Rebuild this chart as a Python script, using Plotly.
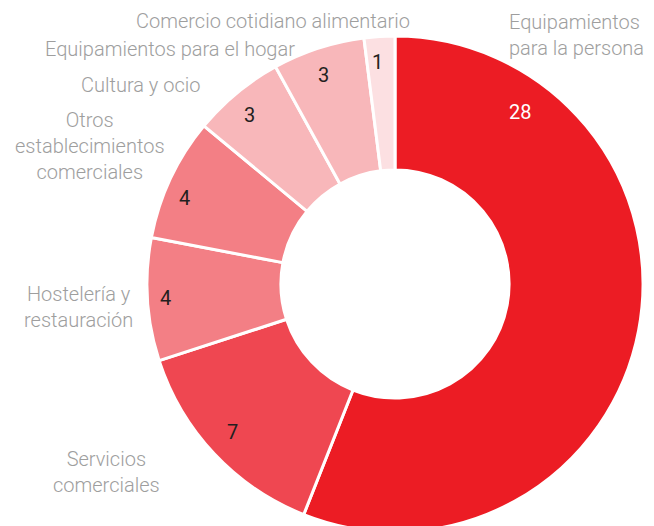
import math
import plotly.graph_objects as go

# Establecimientos por tipo de actividad
categories = [
    "Equipamientos para la persona",
    "Servicios comerciales",
    "Hostelería y restauración",
    "Otros establecimientos comerciales",
    "Cultura y ocio",
    "Equipamientos para el hogar",
    "Comercio cotidiano alimentario",
]
values = [28, 7, 4, 4, 3, 3, 1]

colors = ["#EC1C24", "#EF4751", "#F37F85", "#F37F85", "#F8B7BA", "#F8B7BA", "#FCE0E2"]
value_text_colors = ["#FFFFFF"] + ["#231F20"] * 6

# figure is a little taller than the visible page so the ring runs off the bottom edge
W, H = 654, 532
cx, cy, R = 395, 284, 248
hole = 0.46

# value label placement: radial distance (px) and angular nudge (deg) from slice middle
label_r = [213, 220, 230, 227, 223, 221, 223]
label_nudge = [0, 1, 0, -3, -1, -1, -1]

# outside category labels: text, x, y (pixel), anchor
cat_labels = [
    ("Equipamientos<br>para la persona", 507, 35, "left"),
    ("Servicios<br>comerciales", 106, 472, "center"),
    ("Hostelería y<br>restauración", 78, 307, "center"),
    ("Otros<br>establecimientos<br>comerciales", 90, 146, "center"),
    ("Cultura y ocio", 140, 85, "center"),
    ("Equipamientos para el hogar", 170, 49, "center"),
    ("Comercio cotidiano alimentario", 273, 21, "center"),
]

fig = go.Figure(
    go.Pie(
        labels=categories,
        values=values,
        hole=hole,
        sort=False,
        direction="clockwise",
        rotation=0,
        marker=dict(colors=colors, line=dict(color="#FFFFFF", width=3)),
        textinfo="none",
        hoverinfo="label+value",
        showlegend=False,
        domain=dict(x=[(cx - R) / W, (cx + R) / W], y=[0, 2 * R / H]),
    )
)

annotations = []
total = sum(values)
cum = 0
for i, v in enumerate(values):
    mid = (cum + v / 2) / total * 360 + label_nudge[i]
    if i == 0:
        # the large slice carries its number high on the right
        mid = 36
    cum += v
    r = label_r[i]
    px = cx + r * math.sin(math.radians(mid))
    py = cy - r * math.cos(math.radians(mid))
    annotations.append(dict(
        x=px / W, y=1 - py / H, xref="paper", yref="paper",
        text=str(v), showarrow=False,
        font=dict(family="Roboto", size=20, color=value_text_colors[i], weight=400),
        xanchor="center", yanchor="middle",
    ))

for text, px, py, anchor in cat_labels:
    annotations.append(dict(
        x=px / W, y=1 - py / H, xref="paper", yref="paper",
        text=text, showarrow=False, align=anchor,
        xanchor=anchor, yanchor="middle",
        font=dict(family="Roboto", size=20, color="#9E9E9E", weight=300),
    ))

fig.update_layout(
    width=W, height=H,
    margin=dict(l=0, r=0, t=0, b=0),
    paper_bgcolor="#FFFFFF",
    plot_bgcolor="#FFFFFF",
    annotations=annotations,
)

fig.write_html(
    "out.html",
    post_script="document.documentElement.style.overflow='hidden';document.body.style.overflow='hidden';document.body.style.margin='0';",
)
